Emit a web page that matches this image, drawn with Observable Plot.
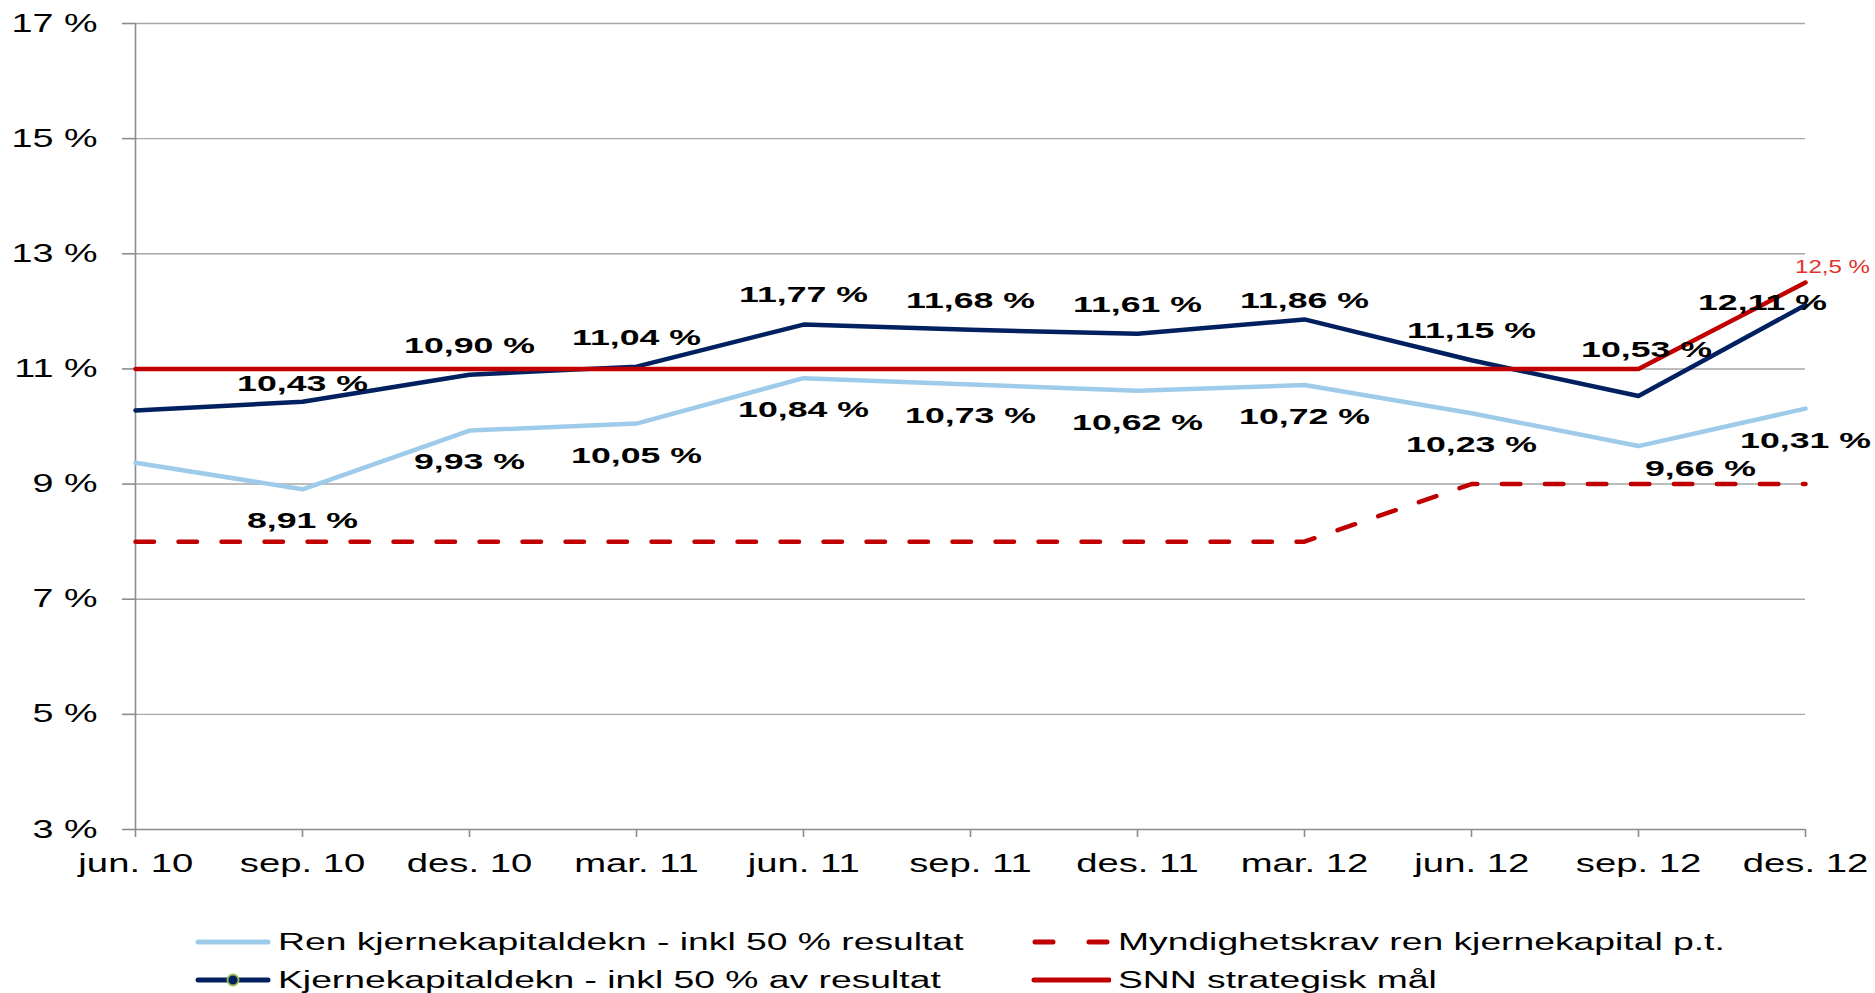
<!DOCTYPE html>
<html><head><meta charset="utf-8">
<script src="https://cdn.jsdelivr.net/npm/d3@7"></script>
<script src="https://cdn.jsdelivr.net/npm/@observablehq/plot@0.6"></script>
<style>
body{margin:0;background:#fff;font-family:"Liberation Sans",Arial,sans-serif;}
#wrap{position:relative;width:1875px;height:993px;overflow:hidden;}
#chart{position:absolute;left:0;top:0;}
.leg{position:absolute;height:30px;display:flex;align-items:center;}
.leg svg{flex:none;}
.leg span{display:inline-block;font-size:23px;color:#000;white-space:nowrap;transform:scaleX(1.62);transform-origin:left center;margin-left:7px;}
</style></head><body>
<div id="wrap">
  <div id="chart"></div>
  <div class="leg" style="left:195px;top:927px;"><svg width="76" height="20"><line x1="3" y1="10" x2="73" y2="10" stroke="#9ECBE9" stroke-width="5" stroke-linecap="round"/></svg><span id="l0"></span></div>
  <div class="leg" style="left:195px;top:965px;"><svg width="76" height="20"><line x1="3" y1="10" x2="73" y2="10" stroke="#002060" stroke-width="5" stroke-linecap="round"/><circle cx="38" cy="10" r="5.5" fill="#002060" stroke="#9BBB59" stroke-width="1.8"/></svg><span id="l1"></span></div>
  <div class="leg" style="left:1031px;top:927px;"><svg width="80" height="20"><line x1="4" y1="10" x2="76" y2="10" stroke="#C00000" stroke-width="5" stroke-linecap="round" stroke-dasharray="18,36"/></svg><span id="l2"></span></div>
  <div class="leg" style="left:1031px;top:965px;"><svg width="80" height="20"><line x1="3" y1="10" x2="78" y2="10" stroke="#C00000" stroke-width="5" stroke-linecap="round"/></svg><span id="l3"></span></div>
</div>
<script>
// ---- data ----
const periods = ["jun. 10","sep. 10","des. 10","mar. 11","jun. 11","sep. 11","des. 11","mar. 12","jun. 12","sep. 12","des. 12"];
const renKjernekapital = [9.37, 8.91, 9.93, 10.05, 10.84, 10.73, 10.62, 10.72, 10.23, 9.66, 10.31];
const kjernekapital = [10.28, 10.43, 10.90, 11.04, 11.77, 11.68, 11.61, 11.86, 11.15, 10.53, 12.11];
const myndighetskrav = [8, 8, 8, 8, 8, 8, 8, 8, 9, 9, 9];
const strategiskMaal = [11, 11, 11, 11, 11, 11, 11, 11, 11, 11, 12.5];
const yTicks = [3, 5, 7, 9, 11, 13, 15, 17];
const seriesNames = [
  "Ren kjernekapitaldekn - inkl 50 % resultat",
  "Kjernekapitaldekn - inkl 50 % av resultat",
  "Myndighetskrav ren kjernekapital p.t.",
  "SNN strategisk mål"
];
const colors = ["#9ECBE9", "#002060", "#C00000", "#C00000"];

seriesNames.forEach((n, i) => document.getElementById("l" + i).textContent = n);

const rows = (vals) => periods.map((p, i) => ({period: p, value: vals[i], i}));
const fmt2 = v => v.toFixed(2).replace(".", ",") + " %";
const fmt1 = v => (Math.round(v * 10) / 10).toString().replace(".", ",") + " %";

const ren = rows(renKjernekapital);
const kj = rows(kjernekapital);
const myn = rows(myndighetskrav);
const snn = rows(strategiskMaal);
const last = periods.length - 1;

const lab = (data, keep, opts) => Plot.text(data, {
  filter: d => keep(d.i), x: "period", y: "value", text: d => fmt2(d.value),
  fontWeight: "bold", fontSize: 21.5, fill: "#000", lineAnchor: "middle", textAnchor: "middle", ...opts
});

const chart = Plot.plot({
  width: 1875, height: 890,
  marginLeft: 135, marginRight: 70, marginTop: 23, marginBottom: 61,
  style: {fontFamily: "'Liberation Sans', Arial, sans-serif", background: "#fff"},
  x: {type: "point", domain: periods, padding: 0},
  y: {domain: [3, 17]},
  marks: [
    Plot.ruleY(yTicks.filter(t => t > 3), {stroke: "#a6a6a6", strokeWidth: 1.4}),
    Plot.ruleX([periods[0]], {stroke: "#8c8c8c", strokeWidth: 1.6}),
    Plot.ruleY([3], {stroke: "#8c8c8c", strokeWidth: 1.6}),
    Plot.axisY({ticks: yTicks, tickSize: 13, tickPadding: 25, tickFormat: d => d + " %", fontSize: 25, fill: "#000", stroke: "#8c8c8c", strokeWidth: 1.6, label: null}),
    Plot.axisX({tickSize: 8, tickPadding: 17, fontSize: 25, fill: "#000", stroke: "#8c8c8c", strokeWidth: 1.6, label: null}),
    Plot.line(ren, {x: "period", y: "value", stroke: colors[0], strokeWidth: 4.5}),
    Plot.line(myn, {x: "period", y: "value", stroke: colors[2], strokeWidth: 4.5, strokeDasharray: "18.5,24.5", strokeLinecap: "round"}),
    Plot.line(kj, {x: "period", y: "value", stroke: colors[1], strokeWidth: 4.5}),
    Plot.line(snn, {x: "period", y: "value", stroke: colors[3], strokeWidth: 4.5}),
    // labels for Kjernekapitaldekn (above)
    lab(kj, i => i > 1 && i < 9 && i !== 7, {dy: -29}),
    lab(kj, i => i === 1 || i === 7, {dy: -18}),
    lab(kj, i => i === 9, {dy: -46, dx: 8}),
    lab(kj, i => i === last, {dy: -2, dx: -43}),
    // labels for Ren kjernekapitaldekn (below)
    lab(ren, i => i > 0 && i !== 9, {dy: 32}),
    lab(ren, i => i === 9, {dy: 23, dx: 62}),
    // strategic target label
    Plot.text(snn.filter(d => d.i === last), {x: "period", y: "value", text: d => fmt1(d.value), fill: "#e5322d", fontSize: 18, dx: 27, dy: -15, lineAnchor: "middle", textAnchor: "middle"})
  ]
});
document.getElementById("chart").appendChild(chart);

function stretch(selector, k) {
  chart.querySelectorAll(selector).forEach(el => {
    const b = el.getBBox();
    const anchor = getComputedStyle(el).textAnchor;
    const ax = anchor === "middle" ? b.x + b.width / 2 : anchor === "end" ? b.x + b.width : b.x;
    const t = el.getAttribute("transform") || "";
    el.setAttribute("transform", `${t} translate(${ax},0) scale(${k},1) translate(${-ax},0)`);
  });
}
stretch('g[aria-label="y-axis tick label"] text', 1.51);
stretch('g[aria-label="x-axis tick label"] text', 1.53);
stretch('g[aria-label="text"][font-weight="bold"] text', 1.66);
stretch('g[aria-label="text"]:not([font-weight="bold"]) text', 1.34);
</script>
</body></html>
